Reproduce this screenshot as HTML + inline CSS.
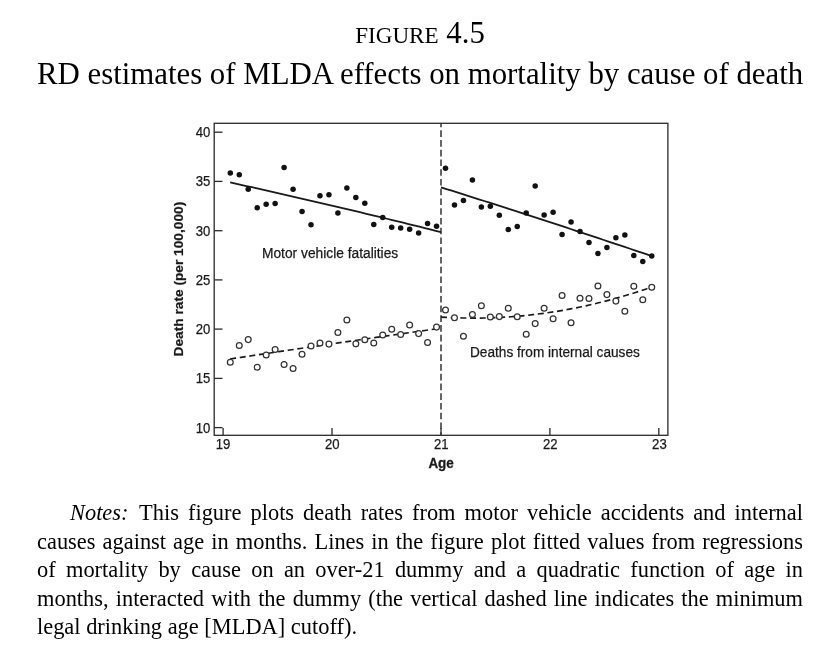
<!DOCTYPE html>
<html lang="en">
<head>
<meta charset="utf-8">
<title>Figure 4.5 - RD estimates of MLDA effects on mortality by cause of death</title>
<style>
html,body{margin:0;padding:0;background:#fff;}
body{width:826px;height:652px;position:relative;overflow:hidden;font-family:"Liberation Serif",serif;color:#000;}
.t1,.t2{position:absolute;left:37px;width:766px;text-align:center;white-space:nowrap;margin:0;font-weight:normal;}
.t1{top:15.3px;font-size:30.82px;line-height:36px;}
.t1 .sc{font-size:23.1px;}
.t2{top:55.6px;font-size:30.82px;line-height:36px;}
.notes{position:absolute;left:37px;top:499.1px;width:766px;font-size:22.42px;line-height:28.6px;margin:0;}
.notes span.l{display:block;text-align:justify;text-align-last:justify;white-space:nowrap;height:28.6px;}
.notes span.l.first{padding-left:33px;}
.notes span.l.last{text-align:left;text-align-last:left;}
svg{position:absolute;left:0;top:0;}
svg text{font-family:"Liberation Sans",sans-serif;font-size:14px;fill:#1a1a1a;stroke:#1a1a1a;stroke-width:0.25;}
.ax{stroke:#2a2a2a;stroke-width:1.3;fill:none;}
.b{fill:#111;}
.h{fill:#fff;stroke:#333;stroke-width:1.25;}
.fit{stroke:#1a1a1a;stroke-width:1.8;fill:none;}
.fitd{stroke:#1a1a1a;stroke-width:1.65;fill:none;stroke-dasharray:6 3.7;}
.vd{stroke:#333;stroke-width:1.5;fill:none;stroke-dasharray:6.6 3.14;}
.bold{font-weight:bold;stroke-width:0.3;}
</style>
</head>
<body>
<h1 class="t1"><span class="sc">FIGURE</span> 4.5</h1>
<h2 class="t2">RD estimates of MLDA effects on mortality by cause of death</h2>

<svg width="826" height="652" viewBox="0 0 826 652" role="img" aria-label="Death rate per 100,000 by age">
<rect class="ax" x="214.2" y="123.3" width="453.7" height="312"/>
<line class="ax" x1="214.2" y1="132.2" x2="222.5" y2="132.2"/>
<text class="tl" x="195.8" y="137.1" textLength="14.6" lengthAdjust="spacingAndGlyphs">40</text>
<line class="ax" x1="214.2" y1="181.4" x2="222.5" y2="181.4"/>
<text class="tl" x="195.8" y="186.3" textLength="14.6" lengthAdjust="spacingAndGlyphs">35</text>
<line class="ax" x1="214.2" y1="230.7" x2="222.5" y2="230.7"/>
<text class="tl" x="195.8" y="235.6" textLength="14.6" lengthAdjust="spacingAndGlyphs">30</text>
<line class="ax" x1="214.2" y1="279.9" x2="222.5" y2="279.9"/>
<text class="tl" x="195.8" y="284.8" textLength="14.6" lengthAdjust="spacingAndGlyphs">25</text>
<line class="ax" x1="214.2" y1="329.1" x2="222.5" y2="329.1"/>
<text class="tl" x="195.8" y="334.0" textLength="14.6" lengthAdjust="spacingAndGlyphs">20</text>
<line class="ax" x1="214.2" y1="378.4" x2="222.5" y2="378.4"/>
<text class="tl" x="195.8" y="383.3" textLength="14.6" lengthAdjust="spacingAndGlyphs">15</text>
<line class="ax" x1="214.2" y1="427.6" x2="222.5" y2="427.6"/>
<text class="tl" x="195.8" y="432.5" textLength="14.6" lengthAdjust="spacingAndGlyphs">10</text>
<line class="ax" x1="223.1" y1="428.0" x2="223.1" y2="435.3"/>
<text class="tl" x="215.8" y="449.4" textLength="14.6" lengthAdjust="spacingAndGlyphs">19</text>
<line class="ax" x1="332.0" y1="428.0" x2="332.0" y2="435.3"/>
<text class="tl" x="325.0" y="449.4" textLength="14.6" lengthAdjust="spacingAndGlyphs">20</text>
<line class="ax" x1="441.0" y1="428.0" x2="441.0" y2="435.3"/>
<text class="tl" x="433.9" y="449.4" textLength="14.6" lengthAdjust="spacingAndGlyphs">21</text>
<line class="ax" x1="549.9" y1="428.0" x2="549.9" y2="435.3"/>
<text class="tl" x="543.0" y="449.4" textLength="14.6" lengthAdjust="spacingAndGlyphs">22</text>
<line class="ax" x1="658.8" y1="428.0" x2="658.8" y2="435.3"/>
<text class="tl" x="652.1" y="449.4" textLength="14.6" lengthAdjust="spacingAndGlyphs">23</text>

<line class="vd" x1="441" y1="123.3" x2="441" y2="435.3" stroke-dashoffset="2.74"/>
<path class="fit" d="M230.15,182.44 L235.56,183.63 L240.96,184.83 L246.37,186.03 L251.78,187.23 L257.18,188.44 L262.59,189.65 L267.99,190.87 L273.40,192.09 L278.81,193.32 L284.21,194.55 L289.62,195.78 L295.03,197.02 L300.43,198.27 L305.84,199.51 L311.25,200.77 L316.65,202.02 L322.06,203.28 L327.47,204.55 L332.87,205.82 L338.28,207.09 L343.68,208.37 L349.09,209.65 L354.50,210.94 L359.90,212.23 L365.31,213.52 L370.72,214.82 L376.12,216.13 L381.53,217.44 L386.94,218.75 L392.34,220.07 L397.75,221.39 L403.16,222.72 L408.56,224.05 L413.97,225.38 L419.37,226.72 L424.78,228.06 L430.19,229.41 L435.59,230.76 L441.00,232.12"/>
<path class="fit" d="M441.00,187.32 L446.40,189.02 L451.81,190.72 L457.21,192.42 L462.61,194.13 L468.01,195.84 L473.42,197.56 L478.82,199.27 L484.22,201.00 L489.62,202.72 L495.03,204.45 L500.43,206.18 L505.83,207.91 L511.23,209.65 L516.64,211.39 L522.04,213.14 L527.44,214.89 L532.84,216.64 L538.25,218.39 L543.65,220.15 L549.05,221.92 L554.45,223.68 L559.86,225.45 L565.26,227.22 L570.66,229.00 L576.06,230.78 L581.47,232.56 L586.87,234.35 L592.27,236.14 L597.67,237.93 L603.08,239.73 L608.48,241.53 L613.88,243.33 L619.28,245.14 L624.69,246.95 L630.09,248.76 L635.49,250.58 L640.89,252.40 L646.30,254.22 L651.70,256.05"/>
<path class="fitd" d="M230.15,358.98 L235.56,358.16 L240.96,357.34 L246.37,356.53 L251.78,355.71 L257.18,354.90 L262.59,354.08 L267.99,353.27 L273.40,352.46 L278.81,351.66 L284.21,350.85 L289.62,350.05 L295.03,349.25 L300.43,348.45 L305.84,347.65 L311.25,346.85 L316.65,346.06 L322.06,345.26 L327.47,344.47 L332.87,343.68 L338.28,342.89 L343.68,342.10 L349.09,341.32 L354.50,340.54 L359.90,339.76 L365.31,338.98 L370.72,338.20 L376.12,337.42 L381.53,336.65 L386.94,335.87 L392.34,335.10 L397.75,334.33 L403.16,333.56 L408.56,332.80 L413.97,332.03 L419.37,331.27 L424.78,330.51 L430.19,329.75 L435.59,328.99 L441.00,328.24"/>
<path class="fitd" d="M441.00,317.06 L446.40,317.38 L451.81,317.64 L457.21,317.84 L462.61,317.98 L468.01,318.07 L473.42,318.11 L478.82,318.08 L484.22,318.00 L489.62,317.86 L495.03,317.66 L500.43,317.41 L505.83,317.10 L511.23,316.73 L516.64,316.30 L522.04,315.82 L527.44,315.28 L532.84,314.69 L538.25,314.03 L543.65,313.32 L549.05,312.55 L554.45,311.73 L559.86,310.85 L565.26,309.91 L570.66,308.91 L576.06,307.86 L581.47,306.75 L586.87,305.58 L592.27,304.36 L597.67,303.07 L603.08,301.74 L608.48,300.34 L613.88,298.89 L619.28,297.38 L624.69,295.81 L630.09,294.18 L635.49,292.50 L640.89,290.76 L646.30,288.97 L651.70,287.11"/>
<circle class="b" cx="230.30" cy="173.00" r="2.75"/>
<circle class="b" cx="239.27" cy="174.85" r="2.75"/>
<circle class="b" cx="248.23" cy="189.20" r="2.75"/>
<circle class="b" cx="257.20" cy="207.85" r="2.75"/>
<circle class="b" cx="266.17" cy="204.20" r="2.75"/>
<circle class="b" cx="275.13" cy="203.56" r="2.75"/>
<circle class="b" cx="284.10" cy="167.60" r="2.75"/>
<circle class="b" cx="293.07" cy="189.20" r="2.75"/>
<circle class="b" cx="302.04" cy="211.50" r="2.75"/>
<circle class="b" cx="311.00" cy="224.70" r="2.75"/>
<circle class="b" cx="319.97" cy="195.70" r="2.75"/>
<circle class="b" cx="328.94" cy="194.85" r="2.75"/>
<circle class="b" cx="337.90" cy="213.00" r="2.75"/>
<circle class="b" cx="346.87" cy="188.10" r="2.75"/>
<circle class="b" cx="355.84" cy="197.55" r="2.75"/>
<circle class="b" cx="364.81" cy="203.30" r="2.75"/>
<circle class="b" cx="373.77" cy="224.40" r="2.75"/>
<circle class="b" cx="382.74" cy="217.55" r="2.75"/>
<circle class="b" cx="391.71" cy="227.36" r="2.75"/>
<circle class="b" cx="400.67" cy="228.00" r="2.75"/>
<circle class="b" cx="409.64" cy="229.20" r="2.75"/>
<circle class="b" cx="418.61" cy="232.90" r="2.75"/>
<circle class="b" cx="427.57" cy="223.40" r="2.75"/>
<circle class="b" cx="436.54" cy="226.26" r="2.75"/>
<circle class="b" cx="445.51" cy="168.20" r="2.75"/>
<circle class="b" cx="454.48" cy="204.90" r="2.75"/>
<circle class="b" cx="463.44" cy="200.60" r="2.75"/>
<circle class="b" cx="472.41" cy="180.00" r="2.75"/>
<circle class="b" cx="481.38" cy="207.10" r="2.75"/>
<circle class="b" cx="490.34" cy="206.20" r="2.75"/>
<circle class="b" cx="499.31" cy="215.15" r="2.75"/>
<circle class="b" cx="508.28" cy="229.40" r="2.75"/>
<circle class="b" cx="517.24" cy="226.44" r="2.75"/>
<circle class="b" cx="526.21" cy="213.07" r="2.75"/>
<circle class="b" cx="535.18" cy="186.07" r="2.75"/>
<circle class="b" cx="544.14" cy="215.00" r="2.75"/>
<circle class="b" cx="553.11" cy="212.30" r="2.75"/>
<circle class="b" cx="562.08" cy="234.50" r="2.75"/>
<circle class="b" cx="571.05" cy="222.00" r="2.75"/>
<circle class="b" cx="580.01" cy="231.56" r="2.75"/>
<circle class="b" cx="588.98" cy="242.50" r="2.75"/>
<circle class="b" cx="597.95" cy="253.50" r="2.75"/>
<circle class="b" cx="606.91" cy="247.50" r="2.75"/>
<circle class="b" cx="615.88" cy="237.80" r="2.75"/>
<circle class="b" cx="624.85" cy="234.90" r="2.75"/>
<circle class="b" cx="633.82" cy="255.50" r="2.75"/>
<circle class="b" cx="642.78" cy="261.40" r="2.75"/>
<circle class="b" cx="651.75" cy="256.00" r="2.75"/>
<circle class="h" cx="230.30" cy="362.20" r="2.9"/>
<circle class="h" cx="239.27" cy="345.40" r="2.9"/>
<circle class="h" cx="248.23" cy="339.60" r="2.9"/>
<circle class="h" cx="257.20" cy="367.30" r="2.9"/>
<circle class="h" cx="266.17" cy="355.06" r="2.9"/>
<circle class="h" cx="275.13" cy="349.40" r="2.9"/>
<circle class="h" cx="284.10" cy="364.40" r="2.9"/>
<circle class="h" cx="293.07" cy="368.56" r="2.9"/>
<circle class="h" cx="302.04" cy="354.30" r="2.9"/>
<circle class="h" cx="311.00" cy="345.90" r="2.9"/>
<circle class="h" cx="319.97" cy="343.00" r="2.9"/>
<circle class="h" cx="328.94" cy="344.10" r="2.9"/>
<circle class="h" cx="337.90" cy="332.45" r="2.9"/>
<circle class="h" cx="346.87" cy="320.06" r="2.9"/>
<circle class="h" cx="355.84" cy="343.87" r="2.9"/>
<circle class="h" cx="364.81" cy="339.80" r="2.9"/>
<circle class="h" cx="373.77" cy="342.90" r="2.9"/>
<circle class="h" cx="382.74" cy="334.90" r="2.9"/>
<circle class="h" cx="391.71" cy="329.26" r="2.9"/>
<circle class="h" cx="400.67" cy="334.50" r="2.9"/>
<circle class="h" cx="409.64" cy="325.00" r="2.9"/>
<circle class="h" cx="418.61" cy="333.60" r="2.9"/>
<circle class="h" cx="427.57" cy="342.45" r="2.9"/>
<circle class="h" cx="436.54" cy="327.10" r="2.9"/>
<circle class="h" cx="445.51" cy="309.90" r="2.9"/>
<circle class="h" cx="454.48" cy="317.80" r="2.9"/>
<circle class="h" cx="463.44" cy="336.20" r="2.9"/>
<circle class="h" cx="472.41" cy="314.40" r="2.9"/>
<circle class="h" cx="481.38" cy="305.70" r="2.9"/>
<circle class="h" cx="490.34" cy="316.90" r="2.9"/>
<circle class="h" cx="499.31" cy="316.60" r="2.9"/>
<circle class="h" cx="508.28" cy="308.20" r="2.9"/>
<circle class="h" cx="517.24" cy="316.75" r="2.9"/>
<circle class="h" cx="526.21" cy="334.20" r="2.9"/>
<circle class="h" cx="535.18" cy="323.60" r="2.9"/>
<circle class="h" cx="544.14" cy="308.20" r="2.9"/>
<circle class="h" cx="553.11" cy="318.70" r="2.9"/>
<circle class="h" cx="562.08" cy="295.50" r="2.9"/>
<circle class="h" cx="571.05" cy="322.70" r="2.9"/>
<circle class="h" cx="580.01" cy="298.20" r="2.9"/>
<circle class="h" cx="588.98" cy="298.40" r="2.9"/>
<circle class="h" cx="597.95" cy="285.90" r="2.9"/>
<circle class="h" cx="606.91" cy="294.60" r="2.9"/>
<circle class="h" cx="615.88" cy="301.10" r="2.9"/>
<circle class="h" cx="624.85" cy="311.20" r="2.9"/>
<circle class="h" cx="633.82" cy="286.20" r="2.9"/>
<circle class="h" cx="642.78" cy="299.80" r="2.9"/>
<circle class="h" cx="651.75" cy="287.30" r="2.9"/>
<text x="262.0" y="257.6" textLength="136.2" lengthAdjust="spacingAndGlyphs">Motor vehicle fatalities</text>
<text x="470.0" y="357.3" textLength="169.8" lengthAdjust="spacingAndGlyphs">Deaths from internal causes</text>
<text class="bold" x="428.4" y="467.5" textLength="25.4" lengthAdjust="spacingAndGlyphs">Age</text>
<text class="bold" style="font-size:13.4px;stroke-width:0.2" transform="translate(182.5,356.4) rotate(-90)" textLength="154.6" lengthAdjust="spacingAndGlyphs">Death rate (per 100,000)</text>
</svg>

<p class="notes">
<span class="l first"><i style="margin-right:2px">Notes:</i> This figure plots death rates from motor vehicle accidents and internal</span>
<span class="l">causes against age in months. Lines in the figure plot fitted values from regressions</span>
<span class="l">of mortality by cause on an over-21 dummy and a quadratic function of age in</span>
<span class="l">months, interacted with the dummy (the vertical dashed line indicates the minimum</span>
<span class="l last">legal drinking age [MLDA] cutoff).</span>
</p>
</body>
</html>
